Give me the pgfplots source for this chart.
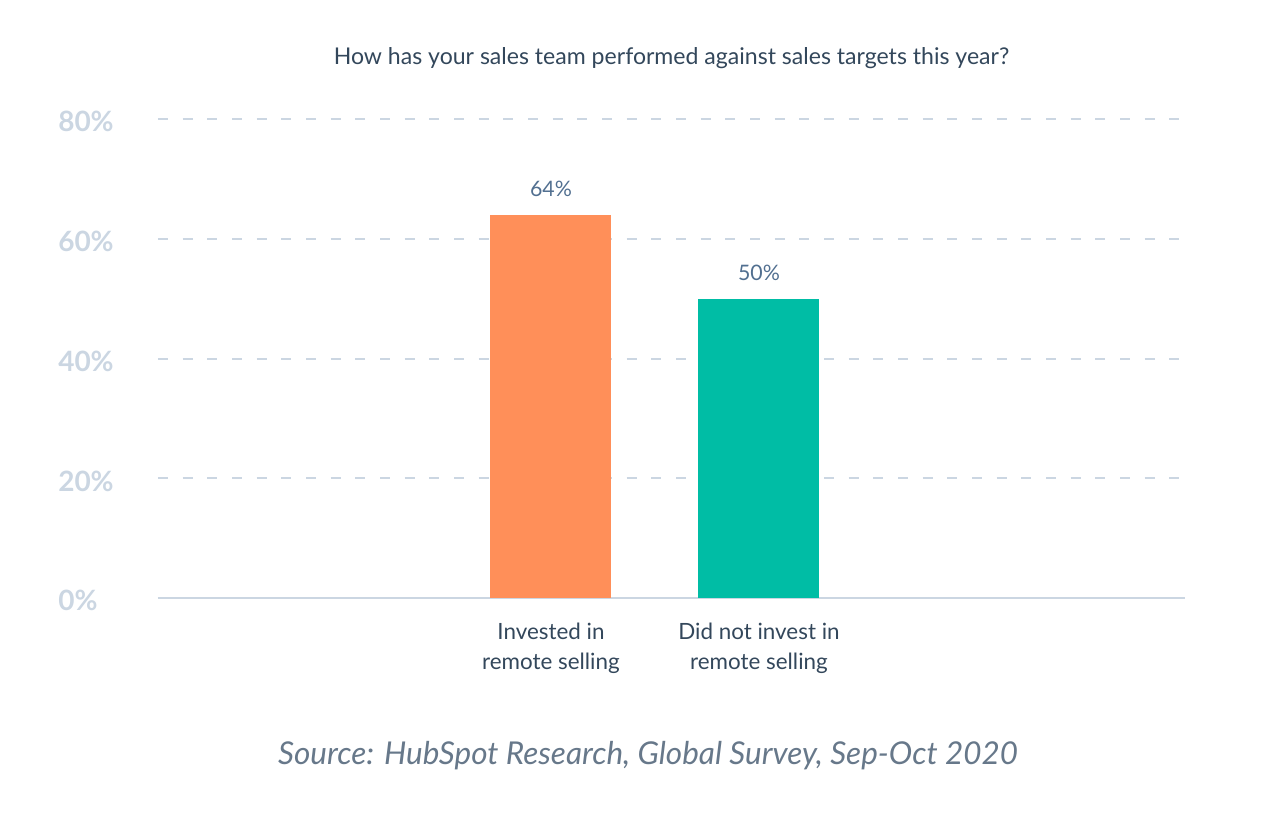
\documentclass[border=0pt]{standalone}
\usepackage{pgfplots}
\pgfplotsset{compat=1.18}
\usepackage{fontspec}
\setmainfont{Lato}
\definecolor{gridc}{HTML}{CBD6E2}
\definecolor{tickc}{HTML}{CBD6E2}
\definecolor{titlec}{HTML}{33475B}
\definecolor{valc}{HTML}{516F90}
\definecolor{srcc}{HTML}{67788A}
\definecolor{orangebar}{HTML}{FF8F59}
\definecolor{tealbar}{HTML}{00BDA5}
\begin{document}
\begin{tikzpicture}
% page frame, 1px = 0.75pt, origin at the axis' lower left corner
\path[use as bounding box] (-118.5pt,-162.75pt) rectangle (841.5pt,448.5pt);
\begin{axis}[
    at={(0,0)}, anchor=south west,
    scale only axis,
    width=770.25pt, height=359.25pt,
    xmin=-1.889, xmax=3.048,
    ymin=0, ymax=80,
    xtick={0,1},
    xticklabels={{Invested in\\remote selling},{Did not invest in\\remote selling}},
    ytick={0,20,40,60,80},
    yticklabels={0\%,20\%,40\%,60\%,80\%},
    major tick length=0pt,
    axis x line*=bottom,
    axis y line*=left,
    x axis line style={color=gridc, line width=1.5pt, -},
    y axis line style={draw=none},
    ymajorgrids,
    grid style={color=gridc, line width=1.5pt, dash pattern=on 7.5pt off 11pt},
    yticklabel style={anchor=west, inner sep=0pt, xshift=-75pt, yshift=-2pt,
        font=\fontsize{21}{23}\selectfont\bfseries, color=tickc},
    xticklabel style={align=center, anchor=north, inner sep=0pt, yshift=-18.5pt,
        font=\fontsize{16.8}{22.5}\selectfont, color=titlec},
    title={How has your sales team performed against sales targets this year?},
    title style={anchor=base, at={(0.5,1)}, yshift=35pt,
        font=\fontsize{17.3}{19}\selectfont, color=titlec},
    /pgf/number format/assume math mode=true,
    nodes near coords={\pgfmathprintnumber{\pgfplotspointmeta}\%},
    nodes near coords style={font=\fontsize{16}{18}\selectfont, color=valc,
        anchor=south, yshift=10pt},
]
\addplot[ybar, bar width=90.75pt, draw=none, fill=orangebar] coordinates {(0,64)};
\addplot[ybar, bar width=90.75pt, draw=none, fill=tealbar] coordinates {(1,50)};
\end{axis}
\node[anchor=base, font=\fontsize{23.6}{26}\selectfont\itshape, color=srcc]
    at (367.5pt,-124.5pt) {Source: HubSpot Research, Global Survey, Sep-Oct 2020};
\end{tikzpicture}
\end{document}
